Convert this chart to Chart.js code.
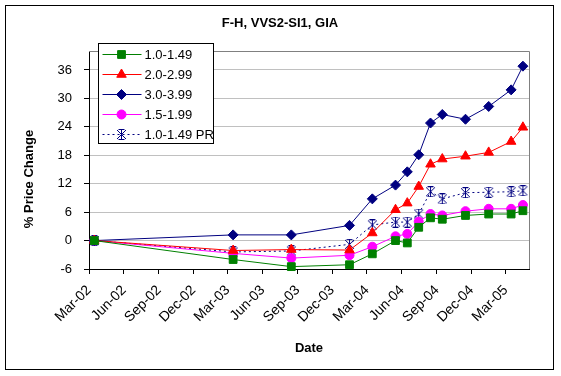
<!DOCTYPE html>
<html>
	<head>
		<meta charset="utf-8">
		<title>F-H, VVS2-SI1, GIA</title>
		<script src="https://cdn.jsdelivr.net/npm/chart.js@4.4.0/dist/chart.umd.min.js"></script>
		<style>
			body { margin: 0; background: #fff; }
			.wrap { position: relative; width: 561px; height: 376px; }
		</style>
	</head>
	<body>
		<div class="wrap">
			<canvas id="myChart"></canvas>
		</div>
		<script>
			// dane
			const dates = ['2002-03-15', '2003-03-15', '2003-08-15', '2004-01-15', '2004-03-15', '2004-05-15', '2004-06-15',
				'2004-07-15', '2004-08-15', '2004-09-15', '2004-11-15', '2005-01-15', '2005-03-15', '2005-04-15'];
			const s10_149 = [0, -4.0, -5.5, -5.1, -2.8, 0.0, -0.5, 2.8, 4.8, 4.5, 5.3, 5.6, 5.6, 6.3];
			const s20_299 = [0, -2.1, -1.9, -2.0, 1.6, 6.5, 7.9, 11.4, 16.1, 17.2, 17.8, 18.6, 20.9, 23.9];
			const s30_399 = [0, 1.2, 1.2, 3.2, 8.8, 11.7, 14.5, 18.1, 24.8, 26.6, 25.6, 28.3, 31.8, 36.8];
			const s15_199 = [0, -2.7, -3.7, -3.1, -1.3, 0.9, 1.4, 4.0, 5.6, 5.3, 6.2, 6.7, 6.7, 7.5];
			const s10_149pr = [0, -2.4, -2.2, -0.8, 3.3, 3.9, 3.9, 5.6, 10.3, 8.8, 10.1, 10.2, 10.3, 10.5];
			const seriesNames = ['1.0-1.49', '2.0-2.99', '3.0-3.99', '1.5-1.99', '1.0-1.49 PR'];

			const xTickDates = ['2002-03-01', '2002-06-01', '2002-09-01', '2002-12-01', '2003-03-01', '2003-06-01', '2003-09-01',
				'2003-12-01', '2004-03-01', '2004-06-01', '2004-09-01', '2004-12-01', '2005-03-01'];
			const xTickLabels = ['Mar-02', 'Jun-02', 'Sep-02', 'Dec-02', 'Mar-03', 'Jun-03', 'Sep-03',
				'Dec-03', 'Mar-04', 'Jun-04', 'Sep-04', 'Dec-04', 'Mar-05'];
			const xMin = '2002-03-01';
			const xMax = '2005-05-01';
			const yTicks = [-6, 0, 6, 12, 18, 24, 30, 36];

			Chart.defaults.font.family = "'Liberation Sans', Arial, sans-serif";
			Chart.defaults.font.size = 13;
			Chart.defaults.color = '#000';

			function pts (values) {
				return values.map((v, i) => ({ x: Date.parse(dates[i]), y: v }));
			}

			// gwiazdka jak w Excelu
			function makeStar (color) {
				const c = document.createElement('canvas');
				c.width = 11; c.height = 11;
				const g = c.getContext('2d');
				g.strokeStyle = color;
				g.lineWidth = 1;
				g.beginPath();
				g.moveTo(5.5, 0); g.lineTo(5.5, 11);
				g.moveTo(1, 1); g.lineTo(10, 10);
				g.moveTo(10, 1); g.lineTo(1, 10);
				g.moveTo(2.5, 0.5); g.lineTo(8.5, 0.5);
				g.moveTo(2.5, 10.5); g.lineTo(8.5, 10.5);
				g.stroke();
				return c;
			}

			function series (label, values, color, style, radius, dash) {
				return {
					label: label,
					data: pts(values),
					borderColor: color,
					backgroundColor: color,
					borderWidth: 1,
					borderDash: dash || [],
					pointStyle: style,
					pointRadius: radius,
					pointBorderWidth: 1,
					pointBorderColor: color,
					pointBackgroundColor: color,
					tension: 0,
					clip: false
				};
			}

			// tytuł, ramka, legenda
			const decor = {
				id: 'decor',
				afterDraw (chart) {
					const ctx = chart.ctx;
					const a = chart.chartArea;
					ctx.save();
					// obramowanie obszaru wykresu
					ctx.strokeStyle = '#808080';
					ctx.lineWidth = 1;
					ctx.beginPath();
					ctx.moveTo(a.left, a.top + 0.5);
					ctx.lineTo(a.right + 0.5, a.top + 0.5);
					ctx.lineTo(a.right + 0.5, a.bottom);
					ctx.stroke();
					// ramka całości
					ctx.strokeStyle = '#000';
					ctx.strokeRect(5.5, 5.5, 548, 364);
					// tytuł
					ctx.fillStyle = '#000';
					ctx.font = "bold 13px 'Liberation Sans', Arial, sans-serif";
					ctx.textAlign = 'center';
					ctx.textBaseline = 'middle';
					ctx.fillText('F-H, VVS2-SI1, GIA', 280, 23);
					// tytuł osi Y
					ctx.save();
					ctx.translate(29, 179);
					ctx.rotate(-Math.PI / 2);
					ctx.fillText('% Price Change', 0, 0);
					ctx.restore();
					// legenda
					const lx = a.left + 9.5, ly = a.top - 7.5;
					ctx.fillStyle = '#fff';
					ctx.fillRect(lx, ly, 115, 100);
					ctx.strokeStyle = '#000';
					ctx.strokeRect(lx, ly, 115, 100);
					ctx.font = "13px 'Liberation Sans', Arial, sans-serif";
					ctx.textAlign = 'left';
					chart.data.datasets.forEach((ds, i) => {
						const y = Math.round(ly + 10.5 + i * 20) + 0.5;
						ctx.strokeStyle = ds.borderColor;
						ctx.setLineDash(ds.borderDash);
						ctx.beginPath();
						ctx.moveTo(lx + 4, y);
						ctx.lineTo(lx + 43, y);
						ctx.stroke();
						ctx.setLineDash([]);
						ctx.fillStyle = ds.backgroundColor;
						Chart.helpers.drawPoint(ctx, { pointStyle: ds.pointStyle, radius: ds.pointRadius, borderWidth: 1, rotation: 0 }, lx + 23, y);
						ctx.fillStyle = '#000';
						ctx.fillText(ds.label, lx + 46, y + 1);
					});
					ctx.restore();
				}
			};

			const ctx = document.getElementById('myChart').getContext('2d');
			const chart = new Chart(ctx, {
				type: 'line',
				data: {
					datasets: [
						series(seriesNames[0], s10_149, '#008000', 'rect', 5.5),
						series(seriesNames[1], s20_299, '#ff0000', 'triangle', 5.5),
						series(seriesNames[2], s30_399, '#000080', 'rectRot', 5),
						series(seriesNames[3], s15_199, '#ff00ff', 'circle', 4.5),
						series(seriesNames[4], s10_149pr, '#000080', makeStar('#000080'), 5.5, [2, 3])
					]
				},
				options: {
					responsive: true,
					maintainAspectRatio: false,
					animation: false,
					layout: { padding: { top: 51, left: 0, right: 32, bottom: 0 } },
					plugins: {
						legend: { display: false },
						title: { display: false },
						tooltip: { enabled: false }
					},
					scales: {
						x: {
							type: 'linear',
							min: Date.parse(xMin),
							max: Date.parse(xMax),
							afterBuildTicks: (scale) => {
								scale.ticks = xTickDates.map(d => ({ value: Date.parse(d) }));
							},
							afterFit: (scale) => { scale.height = 107; },
							ticks: {
								autoSkip: false,
								maxRotation: 45,
								minRotation: 45,
								padding: 8,
								font: { size: 14 },
								callback: (value, index) => xTickLabels[index]
							},
							grid: { drawOnChartArea: false, drawTicks: true, tickLength: 5, tickColor: '#000' },
							border: { color: '#000', width: 1 },
							title: {
								display: true,
								text: 'Date',
								font: { weight: 'bold', size: 13 },
								padding: { top: 0, bottom: 20 }
							}
						},
						y: {
							min: -6,
							max: 40,
							afterBuildTicks: (scale) => {
								scale.ticks = yTicks.map(v => ({ value: v }));
							},
							afterFit: (scale) => { scale.width = 89; },
							ticks: { padding: 12 },
							grid: {
								color: (c) => c.tick && c.tick.value === -6 ? 'rgba(0,0,0,0)' : '#c0c0c0',
								tickColor: '#000',
								tickLength: 5
							},
							border: { color: '#000', width: 1 }
						}
					}
				},
				plugins: [decor]
			});
		</script>
	</body>
</html>
